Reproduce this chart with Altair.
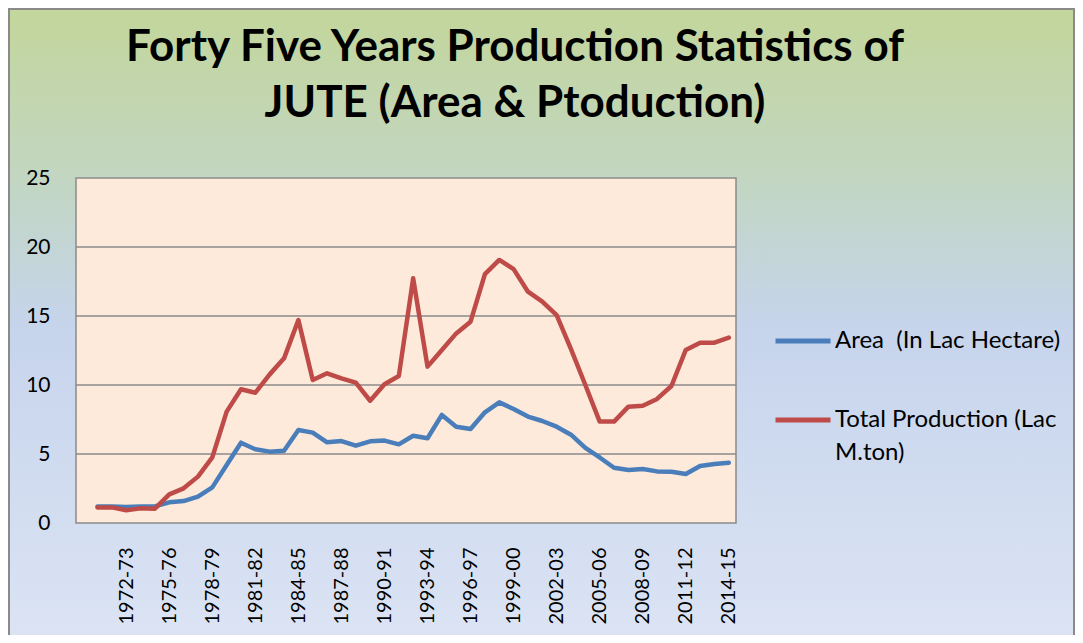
import altair as alt
import pandas as pd

years = ["1970-71", "1971-72", "1972-73", "1973-74", "1974-75", "1975-76", "1976-77",
         "1977-78", "1978-79", "1979-80", "1980-81", "1981-82", "1982-83", "1983-84",
         "1984-85", "1985-86", "1986-87", "1987-88", "1988-89", "1989-90", "1990-91",
         "1991-92", "1992-93", "1993-94", "1994-95", "1995-96", "1996-97", "1997-98",
         "1998-99", "1999-00", "2000-01", "2001-02", "2002-03", "2003-04", "2004-05",
         "2005-06", "2006-07", "2007-08", "2008-09", "2009-10", "2010-11", "2011-12",
         "2012-13", "2013-14", "2014-15"]

area = [1.2, 1.2, 1.16, 1.2, 1.2, 1.5, 1.59, 1.91, 2.58, 4.2, 5.82, 5.34, 5.17, 5.24,
        6.74, 6.55, 5.85, 5.94, 5.6, 5.92, 5.97, 5.7, 6.32, 6.14, 7.83, 6.98, 6.81, 8.02,
        8.74, 8.26, 7.71, 7.39, 6.98, 6.4, 5.45, 4.75, 4.0, 3.84, 3.91, 3.74, 3.72, 3.55,
        4.13, 4.28, 4.37]

production = [1.13, 1.13, 0.92, 1.06, 1.04, 2.08, 2.51, 3.36, 4.76, 8.07, 9.69, 9.44,
              10.77, 11.93, 14.71, 10.36, 10.85, 10.48, 10.17, 8.86, 10.05, 10.65, 17.73,
              11.33, 12.54, 13.74, 14.59, 18.04, 19.06, 18.4, 16.76, 16.04, 15.07, 12.6,
              10.0, 7.35, 7.35, 8.43, 8.5, 8.99, 9.93, 12.54, 13.07, 13.07, 13.43]

series_names = ["Area\u00a0 (In Lac Hectare)", "Total Production (Lac M.ton)"]
series_colors = ["#4A7EBB", "#BE4B48"]
y_ticks = [0, 5, 10, 15, 20, 25]
title_lines = ["Forty Five Years Production Statistics of", "JUTE (Area & Ptoduction)"]

# the source sheet has one empty leading category before 1970-71
x_domain = [" "] + years
x_labels = years[2::3]

rows = []
for y, a, p in zip(years, area, production):
    rows.append({"year": y, "series": series_names[0], "value": a})
    rows.append({"year": y, "series": series_names[1], "value": p})
df = pd.DataFrame(rows)
grid_df = pd.DataFrame({"v": y_ticks[1:-1]})

W, H = 660, 345
PL, PT, PR, PB = 68, 170, 339, 112
FONT = "Lato"

xscale = alt.Scale(domain=x_domain, paddingInner=0, paddingOuter=0)
yscale = alt.Scale(domain=[0, 25], nice=False)
yaxis = alt.Axis(values=y_ticks, ticks=False, domain=False, grid=False,
                 title=None, labelFontSize=21, labelFont=FONT,
                 labelColor="#000000", labelPadding=26, zindex=1)

bg = alt.Chart(alt.Data(values=[{}])).mark_rect(
    fill=alt.LinearGradient(
        gradient="linear", x1=0, x2=0, y1=0, y2=1,
        stops=[alt.GradientStop(color="#C3D69B", offset=0),
               alt.GradientStop(color="#C2D6C4", offset=0.28),
               alt.GradientStop(color="#C6D4EC", offset=0.5),
               alt.GradientStop(color="#DCE4F4", offset=1)]),
    stroke="#8A8A8A", strokeWidth=2
).encode(
    x=alt.value(-PL + 1), x2=alt.value(W + PR - 1),
    y=alt.value(-PT + 1), y2=alt.value(H + PB + 10)
)

title = alt.Chart(alt.Data(values=[{}])).mark_text(
    font=FONT, fontSize=44, fontWeight="bold", color="#000000",
    align="center", baseline="alphabetic", lineHeight=56
).encode(
    x=alt.value(439), y=alt.value(-117), text=alt.value(title_lines)
)

plot_bg = alt.Chart(alt.Data(values=[{}])).mark_rect(
    fill="#FDEADA", stroke="#8A8A8A", strokeWidth=1.5
).encode(
    x=alt.value(0), x2=alt.value(W), y=alt.value(0), y2=alt.value(H)
)

grid = alt.Chart(grid_df).mark_rule(color="#8A8A8A", strokeWidth=1.5).encode(
    y=alt.Y("v:Q", scale=yscale, axis=yaxis),
    x=alt.value(0), x2=alt.value(W)
)

lines = alt.Chart(df).mark_line(strokeWidth=4.5, strokeJoin="round", strokeCap="round").encode(
    x=alt.X("year:N", scale=xscale, sort=x_domain,
            axis=alt.Axis(values=x_labels, labelAngle=270, labelAlign="right",
                          labelBaseline="middle", labelPadding=24, ticks=False,
                          domain=False, grid=False, title=None, labelFontSize=20,
                          labelFont=FONT, labelColor="#000000", zindex=1)),
    y=alt.Y("value:Q", scale=yscale, axis=yaxis),
    color=alt.Color("series:N",
                    scale=alt.Scale(domain=series_names, range=series_colors),
                    legend=alt.Legend(
                        title=None, orient="none", legendX=697, legendY=133,
                        symbolType="stroke", symbolSize=3025, symbolStrokeWidth=5,
                        labelFontSize=24, labelFont=FONT, labelColor="#000000",
                        labelOffset=2, rowPadding=37, labelLimit=400,
                        labelExpr="datum.label == 'Total Production (Lac M.ton)' ? ['Total Production (Lac', 'M.ton)'] : datum.label",
                        labelBaseline="middle")),
)

chart = alt.layer(bg, title, plot_bg, grid, lines).properties(
    width=W, height=H,
    autosize=alt.AutoSizeParams(type="none"),
    padding={"left": PL, "top": PT, "right": PR, "bottom": PB},
).configure(
    view=alt.ViewConfig(stroke=None),
    style={"guide-label": {"lineHeight": 33}},
)

chart.save("out.html", embed_options={"renderer": "svg", "actions": False})
